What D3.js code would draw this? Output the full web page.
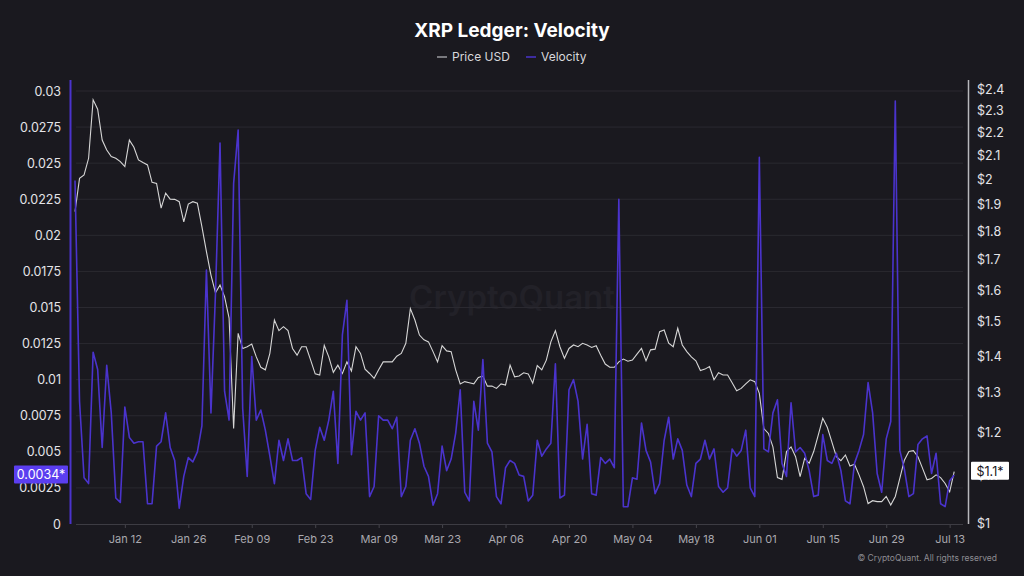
<!DOCTYPE html>
<html>
<head>
<meta charset="utf-8">
<script src="https://d3js.org/d3.v7.min.js"></script>
<style>
  body { margin: 0; background: #1a191f; }
  svg { display: block; font-family: Inter, "Noto Sans", sans-serif; }
</style>
</head>
<body>
<div id="chart"></div>
<script>

// daily values, starting 2025-01-01
const startDay = "2025-01-01";

const velocity = [
  0.0238, 0.0085, 0.0032, 0.0028, 0.0119, 0.0107, 0.0053, 0.0110, 0.0077, 0.0018,
  0.0015, 0.0081, 0.0060, 0.0056, 0.0057, 0.0057, 0.0014, 0.0014, 0.0054, 0.0057,
  0.0077, 0.0053, 0.0044, 0.0011, 0.0033, 0.0046, 0.0043, 0.0050, 0.0068, 0.0176,
  0.0077, 0.0160, 0.0264, 0.0092, 0.0072, 0.0236, 0.0273, 0.0080, 0.0033, 0.0116,
  0.0072, 0.0079, 0.0065, 0.0047, 0.0028, 0.0058, 0.0044, 0.0059, 0.0044, 0.0044,
  0.0046, 0.0021, 0.0017, 0.0051, 0.0067, 0.0058, 0.0072, 0.0092, 0.0042, 0.0131,
  0.0155, 0.0048, 0.0078, 0.0072, 0.0077, 0.0019, 0.0026, 0.0075, 0.0072, 0.0072,
  0.0066, 0.0074, 0.0019, 0.0026, 0.0058, 0.0066, 0.0056, 0.0040, 0.0033, 0.0013,
  0.0021, 0.0054, 0.0037, 0.0045, 0.0063, 0.0093, 0.0022, 0.0016, 0.0085, 0.0065,
  0.0114, 0.0056, 0.0050, 0.0019, 0.0014, 0.0039, 0.0044, 0.0042, 0.0034, 0.0033,
  0.0016, 0.0020, 0.0058, 0.0047, 0.0052, 0.0056, 0.0111, 0.0018, 0.0020, 0.0093,
  0.0100, 0.0085, 0.0045, 0.0069, 0.0021, 0.0020, 0.0046, 0.0042, 0.0045, 0.0039,
  0.0225, 0.0012, 0.0012, 0.0032, 0.0031, 0.0070, 0.0051, 0.0043, 0.0021, 0.0028,
  0.0058, 0.0074, 0.0045, 0.0059, 0.0051, 0.0027, 0.0019, 0.0042, 0.0045, 0.0058,
  0.0045, 0.0052, 0.0026, 0.0022, 0.0025, 0.0052, 0.0047, 0.0051, 0.0065, 0.0025,
  0.0019, 0.0254, 0.0052, 0.0050, 0.0077, 0.0086, 0.0042, 0.0033, 0.0084, 0.0050,
  0.0053, 0.0049, 0.0037, 0.0019, 0.0020, 0.0062, 0.0044, 0.0042, 0.0049, 0.0037,
  0.0016, 0.0014, 0.0042, 0.0051, 0.0062, 0.0098, 0.0077, 0.0035, 0.0022, 0.0059,
  0.0071, 0.0293, 0.0051, 0.0038, 0.0019, 0.0021, 0.0055, 0.0059, 0.0061, 0.0035,
  0.0049, 0.0014, 0.0012, 0.0030, 0.0034
];

const priceUsd = [
  1.874, 2.004, 2.018, 2.087, 2.348, 2.304, 2.165, 2.122, 2.094, 2.087,
  2.073, 2.052, 2.165, 2.134, 2.080, 2.069, 2.059, 1.988, 1.984, 1.887,
  1.945, 1.922, 1.921, 1.912, 1.836, 1.903, 1.912, 1.906, 1.818, 1.729,
  1.649, 1.591, 1.616, 1.579, 1.512, 1.210, 1.466, 1.422, 1.427, 1.435,
  1.398, 1.369, 1.362, 1.408, 1.506, 1.474, 1.486, 1.474, 1.422, 1.403,
  1.427, 1.427, 1.389, 1.351, 1.348, 1.431, 1.398, 1.355, 1.375, 1.352,
  1.384, 1.359, 1.427, 1.408, 1.364, 1.352, 1.339, 1.362, 1.384, 1.384,
  1.384, 1.400, 1.408, 1.437, 1.541, 1.506, 1.461, 1.447, 1.441, 1.413,
  1.384, 1.430, 1.415, 1.413, 1.362, 1.324, 1.330, 1.327, 1.324, 1.341,
  1.345, 1.318, 1.318, 1.312, 1.324, 1.321, 1.375, 1.343, 1.345, 1.354,
  1.351, 1.326, 1.374, 1.362, 1.389, 1.441, 1.474, 1.427, 1.394, 1.422,
  1.432, 1.427, 1.437, 1.432, 1.425, 1.430, 1.403, 1.378, 1.369, 1.369,
  1.384, 1.392, 1.386, 1.389, 1.406, 1.422, 1.387, 1.418, 1.420, 1.471,
  1.476, 1.437, 1.427, 1.481, 1.432, 1.413, 1.398, 1.387, 1.360, 1.364,
  1.371, 1.335, 1.354, 1.348, 1.348, 1.327, 1.306, 1.312, 1.324, 1.335,
  1.330, 1.299, 1.210, 1.198, 1.166, 1.096, 1.092, 1.155, 1.166, 1.143,
  1.098, 1.139, 1.128, 1.155, 1.194, 1.235, 1.213, 1.178, 1.143, 1.134,
  1.147, 1.122, 1.126, 1.102, 1.076, 1.040, 1.046, 1.044, 1.044, 1.055,
  1.037, 1.055, 1.094, 1.135, 1.155, 1.157, 1.143, 1.117, 1.091, 1.094,
  1.102, 1.096, 1.083, 1.065, 1.109
];

const velocityTicks = [0, 0.0025, 0.005, 0.0075, 0.01, 0.0125, 0.015, 0.0175, 0.02, 0.0225, 0.025, 0.0275, 0.03];
const priceTicks = [1, 1.1, 1.2, 1.3, 1.4, 1.5, 1.6, 1.7, 1.8, 1.9, 2, 2.1, 2.2, 2.3, 2.4];
const dateTicks = ["2025-01-12", "2025-01-26", "2025-02-09", "2025-02-23", "2025-03-09", "2025-03-23",
  "2025-04-06", "2025-04-20", "2025-05-04", "2025-05-18", "2025-06-01", "2025-06-15",
  "2025-06-29", "2025-07-13"];

const W = 1024, H = 576;
const plot = {left: 76, right: 963, top: 80, bottom: 524};

const parse = d3.utcParse("%Y-%m-%d");
const t0 = parse(startDay);
const dates = velocity.map((v, i) => d3.utcDay.offset(t0, i));

const purple = "#4a33cc";
const priceColor = "#d6d6d6";

const svg = d3.select("#chart")
  .append("svg")
    .attr("width", W)
    .attr("height", H);

svg.append("rect").attr("width", W).attr("height", H).attr("fill", "#1a191f");

// scales
const x = d3.scaleUtc()
  .domain([dates[0], dates[dates.length - 1]])
  .range([75, 954.2]);
const yV = d3.scaleLinear()
  .domain([0, 0.03])
  .range([524, 91]);
const yP = d3.scaleLog()
  .domain([1, 2.4])
  .range([523, 89]);

// watermark
svg.append("text")
  .attr("x", 512).attr("y", 309)
  .attr("text-anchor", "middle")
  .attr("font-size", 33)
  .attr("font-weight", 600)
  .attr("fill", "#222128")
  .text("CryptoQuant");

// grid
svg.append("g")
  .selectAll("line")
  .data(velocityTicks.slice(1))
  .join("line")
    .attr("x1", plot.left).attr("x2", plot.right)
    .attr("y1", d => yV(d)).attr("y2", d => yV(d))
    .attr("stroke", "#2a2930")
    .attr("stroke-width", 1);

// bottom axis
const xAxis = svg.append("g")
  .attr("transform", `translate(0,${plot.bottom})`)
  .call(d3.axisBottom(x)
    .tickValues(dateTicks.map(parse))
    .tickFormat(d3.utcFormat("%b %d"))
    .tickSize(4)
    .tickPadding(7));
xAxis.select(".domain").remove();
xAxis.selectAll(".tick line").attr("stroke", "#45444b");
xAxis.selectAll(".tick text")
  .attr("fill", "#a9a8ae")
  .attr("font-size", 11)
  .attr("font-family", "Inter, sans-serif");
svg.append("line")
  .attr("x1", plot.left).attr("x2", plot.right)
  .attr("y1", plot.bottom + 0.5).attr("y2", plot.bottom + 0.5)
  .attr("stroke", "#3d3c43");

// left axis (velocity)
const leftAxis = svg.append("g")
  .attr("transform", "translate(70,0)")
  .call(d3.axisLeft(yV)
    .tickValues(velocityTicks)
    .tickFormat(d => String(+d.toFixed(4)))
    .tickSize(0)
    .tickPadding(9));
leftAxis.select(".domain").remove();
leftAxis.selectAll(".tick text")
  .attr("fill", "#e4e4e8")
  .attr("font-size", 12.5)
  .attr("font-family", "Inter, sans-serif");
svg.append("line")
  .attr("x1", 70.5).attr("x2", 70.5)
  .attr("y1", plot.top).attr("y2", plot.bottom)
  .attr("stroke", purple).attr("stroke-width", 2);

// right axis (price)
const rightAxis = svg.append("g")
  .attr("transform", "translate(968,0)")
  .call(d3.axisRight(yP)
    .tickValues(priceTicks)
    .tickFormat(d => "$" + (+d.toFixed(1)))
    .tickSize(0)
    .tickPadding(9));
rightAxis.select(".domain").remove();
rightAxis.selectAll(".tick text")
  .attr("fill", "#e4e4e8")
  .attr("font-size", 12.5)
  .attr("font-family", "Inter, sans-serif");
svg.append("line")
  .attr("x1", 968.5).attr("x2", 968.5)
  .attr("y1", plot.top).attr("y2", plot.bottom)
  .attr("stroke", "#b8b8bc").attr("stroke-width", 1.5);

// lines
svg.append("path")
  .datum(priceUsd)
  .attr("fill", "none")
  .attr("stroke", priceColor)
  .attr("stroke-width", 1.1)
  .attr("d", d3.line().x((d, i) => x(dates[i])).y(d => yP(d)));

svg.append("path")
  .datum(velocity)
  .attr("fill", "none")
  .attr("stroke", purple)
  .attr("stroke-width", 1.6)
  .attr("stroke-linejoin", "round")
  .attr("d", d3.line().x((d, i) => x(dates[i])).y(d => yV(d)));

// last value badges
const lastV = velocity[velocity.length - 1];
const lastP = priceUsd[priceUsd.length - 1];

const vy = yV(lastV);
svg.append("rect")
  .attr("x", 14).attr("y", vy - 9.5).attr("width", 54).attr("height", 18).attr("rx", 1)
  .attr("fill", "#5b3ef0");
svg.append("text")
  .attr("x", 41).attr("y", vy + 4.5)
  .attr("text-anchor", "middle")
  .attr("font-size", 12.5).attr("fill", "#ffffff")
  .text(String(+lastV.toFixed(4)) + "*");

const py = yP(lastP);
svg.append("rect")
  .attr("x", 971).attr("y", py - 10).attr("width", 38).attr("height", 18).attr("rx", 1)
  .attr("fill", "#ffffff");
svg.append("text")
  .attr("x", 990).attr("y", py + 4)
  .attr("text-anchor", "middle")
  .attr("font-size", 12.5).attr("fill", "#15141a")
  .text("$" + (+lastP.toFixed(1)) + "*");

// title + legend
svg.append("text")
  .attr("x", 512).attr("y", 37)
  .attr("text-anchor", "middle")
  .attr("font-size", 19).attr("font-weight", 700)
  .attr("fill", "#ffffff")
  .text("XRP Ledger: Velocity");

const legend = [
  {name: "Price USD", color: "#9a9a9f", x: 437},
  {name: "Velocity", color: purple, x: 526}
];
const lg = svg.append("g").selectAll("g").data(legend).join("g")
  .attr("transform", d => `translate(${d.x},57)`);
lg.append("line")
  .attr("x1", 0).attr("x2", 10).attr("y1", 0).attr("y2", 0)
  .attr("stroke", d => d.color).attr("stroke-width", 1.5);
lg.append("text")
  .attr("x", 15).attr("y", 4.3)
  .attr("font-size", 12).attr("fill", "#d8d8dc")
  .text(d => d.name);

// footer
svg.append("text")
  .attr("x", 997).attr("y", 561)
  .attr("text-anchor", "end")
  .attr("font-size", 8.5).attr("fill", "#8d8c92")
  .text("© CryptoQuant. All rights reserved");

</script>
</body>
</html>
